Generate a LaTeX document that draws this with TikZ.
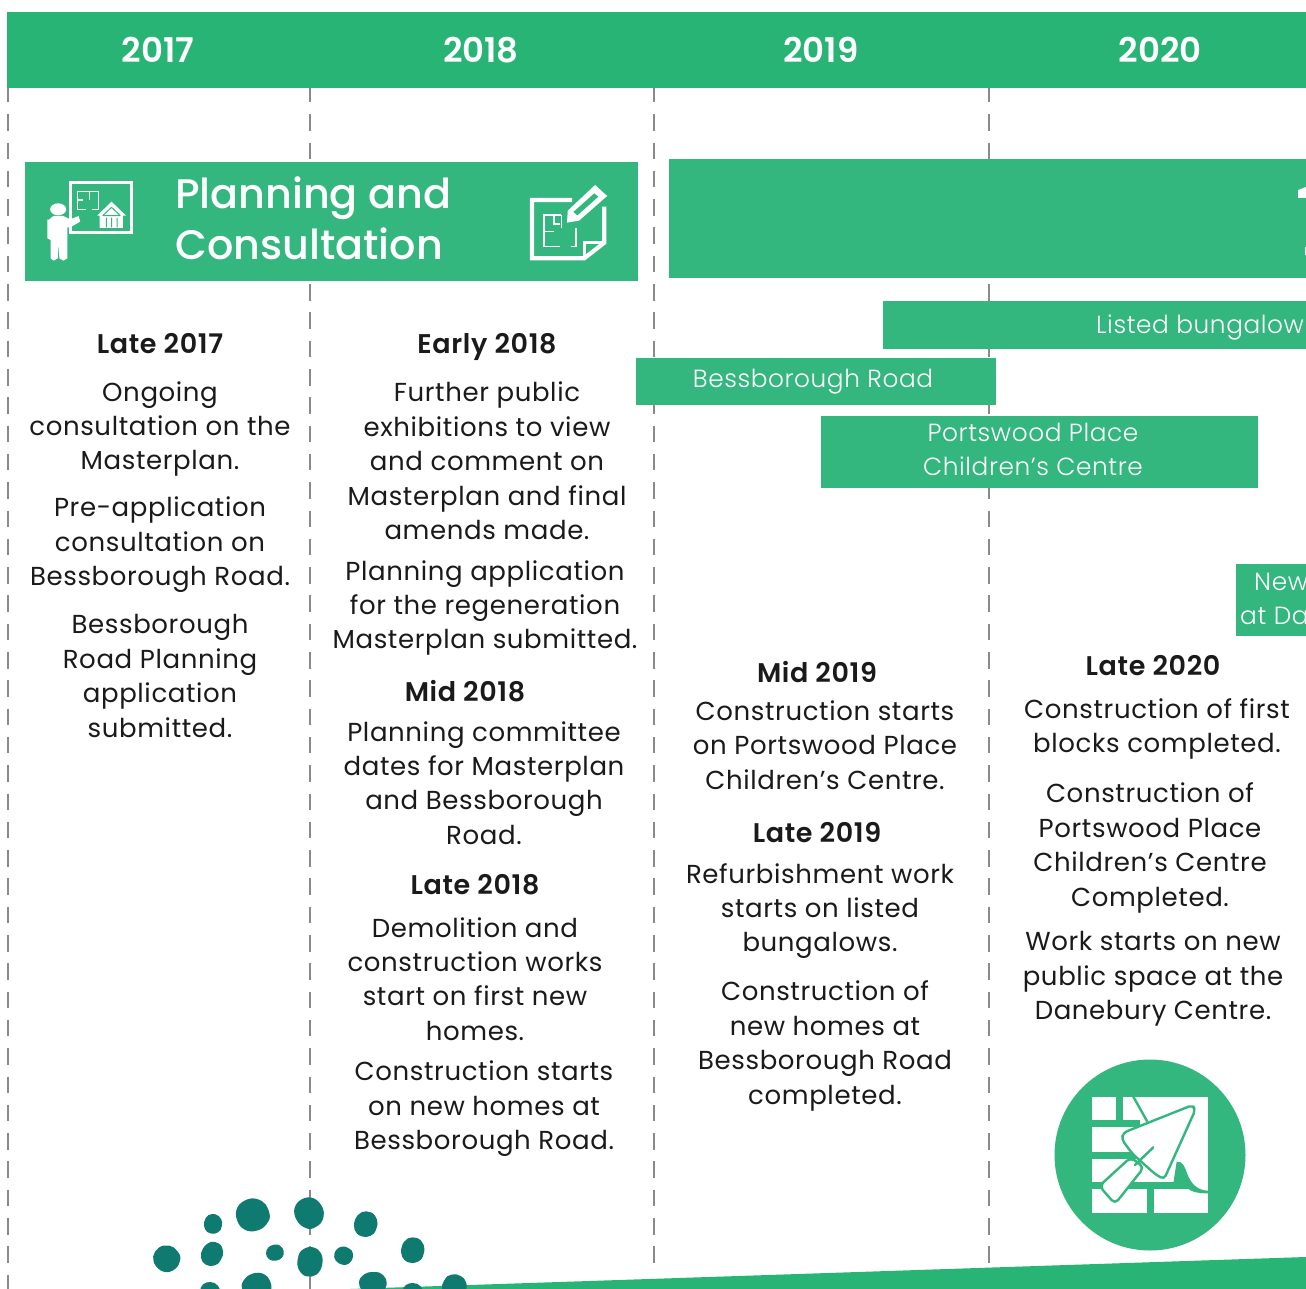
\documentclass[tikz,border=0pt]{standalone}
\usepackage{fontspec}
\setmainfont[LetterSpace=2.4,BoldFont={Poppins SemiBold}]{Poppins}
\newfontfamily\barfont[LetterSpace=2.4]{Poppins Light}
\newfontfamily\titlefont{Poppins Medium}
\newfontfamily\yearfont{Poppins SemiBold}
\definecolor{band}{HTML}{27B474}
\definecolor{panel}{HTML}{34B67F}
\definecolor{teal}{HTML}{0F7A70}
\definecolor{ink}{HTML}{1A1A1A}
\definecolor{rule}{HTML}{8A8A8A}
\tikzset{
  body/.style={align=center,text=ink,font=\fontsize{26}{34.4}\selectfont,inner sep=0pt},
  head/.style={text=ink,font=\fontsize{27}{34.4}\selectfont\bfseries,inner sep=0pt},
  year/.style={text=white,font=\fontsize{34}{40}\selectfont\yearfont,inner sep=0pt},
  bar/.style={fill=panel,draw=none},
  barlabel/.style={text=white,align=center,font=\fontsize{24.8}{34}\selectfont\barfont,inner sep=0pt},
  gridline/.style={draw=rule,line width=1.5pt,dash pattern=on 16.5pt off 11.8pt},
  blob/.style={fill=teal,draw=none},
  ico/.style={draw=white,line width=3pt,line cap=round,line join=round},
  mortar/.style={draw=panel,line width=7pt},
  thin/.style={draw=panel,line width=2.4pt},
}
\begin{document}
\begin{tikzpicture}[x=1pt,y=-1pt]
\useasboundingbox (0,0) rectangle (1306,1289);
\clip (0,0) rectangle (1306,1289);
\fill[white] (0,0) rectangle (1306,1289);
% grid
\coordinate (g1a) at (8,86); \coordinate (g1b) at (8,1289);
\coordinate (g2a) at (310,86); \coordinate (g2b) at (310,1289);
\coordinate (g3a) at (654,86); \coordinate (g3b) at (654,1265);
\coordinate (g4a) at (989,86); \coordinate (g4b) at (989,1265);
\draw[gridline] (g1a) -- (g1b);
\draw[gridline] (g2a) -- (g2b);
\draw[gridline] (g3a) -- (g3b);
\draw[gridline] (g4a) -- (g4b);
% header
\fill[band] (7,12) rectangle (1306,88);
\node[year] (y17) at (158,50) {2017};
\node[year] (y18) at (481,50) {2018};
\node[year] (y19) at (821,50) {2019};
\node[year] (y20) at (1160,50) {2020};
% panels
\fill[bar] (25,162) rectangle (638,281);
\node[anchor=west,text=white,align=left,inner sep=0pt,font=\fontsize{41.3}{51}\selectfont\titlefont] (plan) at (175,218) {Planning and\\Consultation};
\fill[bar] (669,159) rectangle (1306,278);
\fill[white] (1298,190) -- (1306,187) -- (1306,198) -- (1298,198) -- cycle;
\fill[white] (1305,247) rectangle (1306,255);
\fill[bar] (883,301) rectangle (1306,349);
\node[barlabel,anchor=west] (b1) at (1096,327) {Listed bungalow};
\fill[bar] (636,358) rectangle (996,405);
\node[barlabel] (b2) at (813,382) {Bessborough Road};
\fill[bar] (821,416) rectangle (1258,488);
\node[barlabel] (b3) at (1033,449) {Portswood Place\\Children’s Centre};
\fill[bar] (1236,564) rectangle (1306,636);
\node[barlabel,anchor=north west,align=left] (b4) at (1240,573) {\hspace*{14pt}New\\at Da};
% column 1
\node[head] (h1) at (160,344) {Late 2017};
\node[body] (t11) at (160,429) {Ongoing\\consultation on the\\Masterplan.};
\node[body] (t12) at (160,545) {Pre-application\\consultation on\\Bessborough Road.};
\node[body] (t13) at (160,676) {Bessborough\\Road Planning\\application\\submitted.};
% column 2
\node[head] (h2) at (487,347) {Early 2018};
\node[body] (t21) at (487,461) {Further public\\exhibitions to view\\and comment on\\Masterplan and final\\amends made.};
\node[body] (t22) at (485,608) {Planning application\\for the regeneration\\Masterplan submitted.};
\node[head] (h3) at (465,691) {Mid 2018};
\node[body] (t23) at (484,783) {Planning committee\\dates for Masterplan\\and Bessborough\\Road.};
\node[head] (h4) at (475,885) {Late 2018};
\node[body] (t24) at (475,979) {Demolition and\\construction works\\start on first new\\homes.};
\node[body] (t25) at (484,1109) {Construction starts\\on new homes at\\Bessborough Road.};
% column 3
\node[head] (h5) at (817,672) {Mid 2019};
\node[body] (t31) at (825,745) {Construction starts\\on Portswood Place\\Children’s Centre.};
\node[head] (h6) at (817,833) {Late 2019};
\node[body] (t32) at (820,911) {Refurbishment work\\starts on listed\\bungalows.};
\node[body] (t33) at (825,1046) {Construction of\\new homes at\\Bessborough Road\\completed.};
% column 4
\node[head] (h7) at (1153,666) {Late 2020};
\node[body] (t41) at (1157,729) {Construction of first\\blocks completed.};
\node[body] (t42) at (1150,848) {Construction of\\Portswood Place\\Children’s Centre\\Completed.};
\node[body] (t43) at (1153,979) {Work starts on new\\public space at the\\Danebury Centre.};
% wedge
\fill[band] (350,1289) -- (1306,1257) -- (1306,1289) -- cycle;
% blobs
\foreach \px/\py/\ra/\rb/\ang in {166.7/1258.7/13/13.5/40,213/1224/9/10/-10,252.7/1215/16.5/16.5/20,309/1213/15.5/14.5/-60,365.7/1224.3/11.5/13/-20,212/1254/10.5/12.5/-30,275/1252.7/8/9/100,310/1261.7/12.5/15/170,343.7/1255.7/9/9.5/60,412.7/1250.3/11.5/13/-15,210/1292/10/10/0,256.7/1286.7/14.5/14/200,373/1283/11/14/90,412.7/1292/10/9/0,454.3/1287/12/13/150}
  \fill[blob,shift={(\px,\py)},rotate=\ang,xscale=\ra,yscale=\rb] (1,0.05) .. controls (1,0.4) and (0.95,0.55) .. (0.72,0.72) .. controls (0.5,0.9) and (0.3,0.98) .. (0,0.98) .. controls (-0.35,0.98) and (-0.6,0.85) .. (-0.75,0.68) .. controls (-0.95,0.45) and (-1,0.25) .. (-1,-0.05) .. controls (-1,-0.35) and (-0.88,-0.6) .. (-0.68,-0.78) .. controls (-0.48,-0.95) and (-0.2,-1) .. (0.05,-1) .. controls (0.4,-1) and (0.6,-0.82) .. (0.8,-0.62) .. controls (0.95,-0.45) and (1,-0.25) .. (1,0.05) -- cycle;
% teacher icon (zoom coordinates: x scale 2.49, y scale 3)
\begin{scope}[shift={(20,150)},x=0.4016pt,y=-0.3333pt]
  \draw[ico,line cap=butt,line join=miter] (125,98) rectangle (278,248);
  \draw[ico,line width=1.1pt,line cap=butt,line join=miter] (143,125) -- (143,178) -- (165,178) (143,150) -- (158,150) (143,125) -- (195,125) -- (195,178) -- (180,178) (172,125) -- (172,150);
  \fill[white] (192,197) -- (228,155) -- (264,197) -- (256,197) -- (256,234) -- (198,234) -- (198,197) -- cycle;
  \draw[panel,line width=1pt] (228,172) -- (206,197) (228,172) -- (250,197) (206,197) -- (250,197) (215,203) -- (215,232) (228,203) -- (228,232) (242,203) -- (242,232);
  \fill[white] (95,178) ellipse [x radius=8pt,y radius=6pt];
  \fill[white] (68,208) to[out=-60,in=180] (85,198) -- (108,198) -- (125,208) -- (146,198) -- (150,215) -- (125,232) -- (118,232) -- (118,325) -- (108,332) -- (98,325) -- (96,280) -- (94,325) -- (84,332) -- (76,325) -- (76,270) -- (68,265) -- cycle;
\end{scope}
% plan icon
\begin{scope}[shift={(20,150)},x=0.4016pt,y=-0.3333pt]
  \draw[ico,line width=4.2pt,line join=miter,line cap=butt] (1375,150) -- (1275,150) -- (1275,325) -- (1405,325) -- (1455,278) -- (1455,170);
  \draw[ico,line width=2.8pt,line join=miter,line cap=butt] (1405,325) -- (1405,278) -- (1455,278);
  \draw[ico,line width=1.6pt,line cap=butt,line join=miter] (1348,195) -- (1305,195) -- (1305,290) -- (1345,290) (1305,245) -- (1330,245) (1348,195) -- (1348,235) (1330,195) -- (1330,222) -- (1345,222) (1385,235) -- (1385,290) -- (1372,290);
  \fill[white] (1432,105) -- (1462,138) -- (1392,212) -- (1362,218) -- (1364,182) -- cycle;
  \fill[panel] (1430,130) -- (1440,140) -- (1388,196) -- (1378,186) -- cycle;
\end{scope}
% trowel icon
\fill[panel] (1150,1155) circle [radius=95.5pt];
\begin{scope}[shift={(1040,1050)},x=0.3333pt,y=-0.3333pt]
  \fill[white] (157,140) rectangle (505,490);
  \draw[mortar] (157,221) -- (300,221) (157,315) -- (300,315) (157,408) -- (445,408);
  \draw[mortar] (239,140) -- (239,221) (332,408) -- (332,490);
  \draw[thin] (280,140) -- (322,215);
  \fill[panel] (410,335) to[out=10,in=110] (442,372) to[out=-70,in=180] (505,422) -- (505,430) to[out=180,in=-60] (430,400) -- (400,400) -- cycle;
  \draw[thin,fill=white,line join=round,rounded corners=4pt] (458,165) -- (250,248) -- (245,268) -- (278,312) -- (345,372) -- (372,388) -- (466,180) -- cycle;
  \draw[thin,fill=white,line join=round,rounded corners=5pt] (272,322) -- (312,352) -- (225,462) -- (178,408) -- cycle;
  \draw[thin,line cap=round] (340,292) -- (285,345);
\end{scope}
\end{tikzpicture}
\end{document}
